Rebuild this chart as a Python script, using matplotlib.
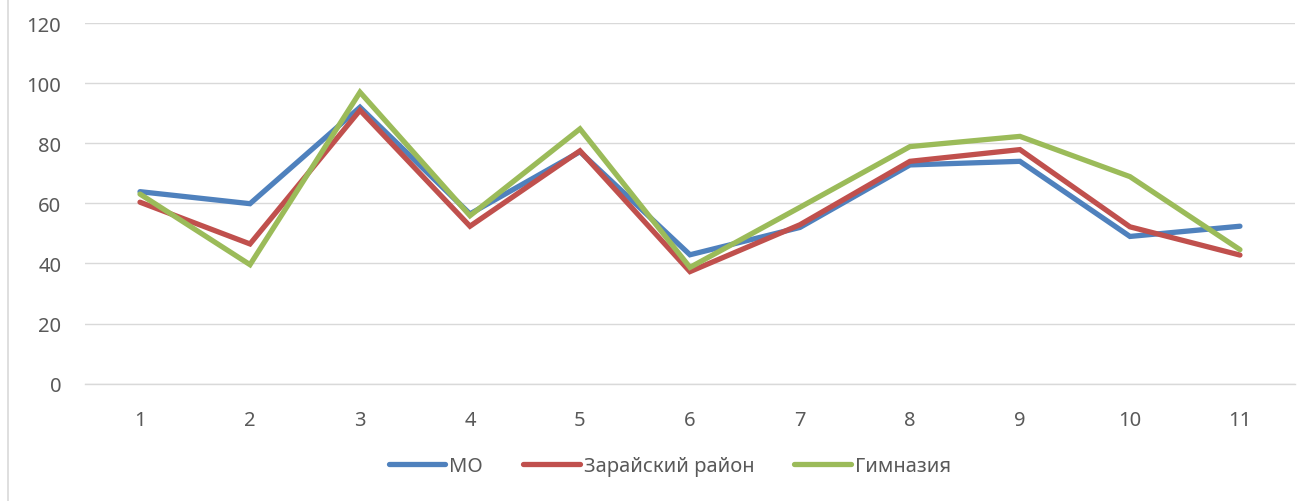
import matplotlib.pyplot as plt
from matplotlib.lines import Line2D

# Data
classes = ['1', '2', '3', '4', '5', '6', '7', '8', '9', '10', '11']
mo = [63.9, 59.9, 92.0, 56.5, 77.2, 42.9, 52.0, 72.8, 74.0, 49.0, 52.4]
zaraysk = [60.4, 46.5, 91.0, 52.4, 77.5, 37.3, 52.9, 74.0, 77.9, 52.2, 42.8]
gymnasium = [63.1, 39.6, 97.0, 55.9, 84.8, 38.7, 58.7, 78.9, 82.3, 68.9, 44.6]

series_names = ['МО', 'Зарайский район', 'Гимназия']
colors = ['#4F81BD', '#C0504D', '#9BBB59']

plt.rcParams['font.family'] = ['Noto Sans', 'DejaVu Sans']

fig = plt.figure(figsize=(13.16, 5.02), dpi=100)
ax = fig.add_axes([0.0646, 0.2337, 0.9194, 0.7183])

x = list(range(len(classes)))
for vals, name, c in zip([mo, zaraysk, gymnasium], series_names, colors):
    ax.plot(x, vals, color=c, linewidth=3.8, label=name, solid_joinstyle='miter',
            solid_capstyle='round')

ax.set_xlim(-0.5, len(classes) - 0.5)
ax.set_ylim(0, 120)
ax.set_yticks(range(0, 121, 20))
ax.set_xticks(x)
ax.set_xticklabels(classes)
ax.grid(axis='y', color='#d9d9d9', linewidth=1.0)
ax.axhline(0, color='#d9d9d9', linewidth=1.0, clip_on=False, zorder=0)
ax.set_axisbelow(True)
for s in ax.spines.values():
    s.set_visible(False)
ax.tick_params(length=0, colors='#595959', labelsize=14.5)
ax.tick_params(axis='x', pad=19)
ax.tick_params(axis='y', pad=17)

# chart frame border on the left
fig.add_artist(Line2D([8 / 1316, 8 / 1316], [0, 1], color='#d9d9d9', linewidth=1.2))

leg = fig.legend(loc='center', bbox_to_anchor=(0.509, 0.07), ncol=3, frameon=False,
                 fontsize=14.5, handlelength=2.8, handletextpad=0.2, columnspacing=2.0,
                 labelcolor='#595959')
for line in leg.get_lines():
    line.set_linewidth(3.8)

fig.savefig('out.png', dpi=100)
